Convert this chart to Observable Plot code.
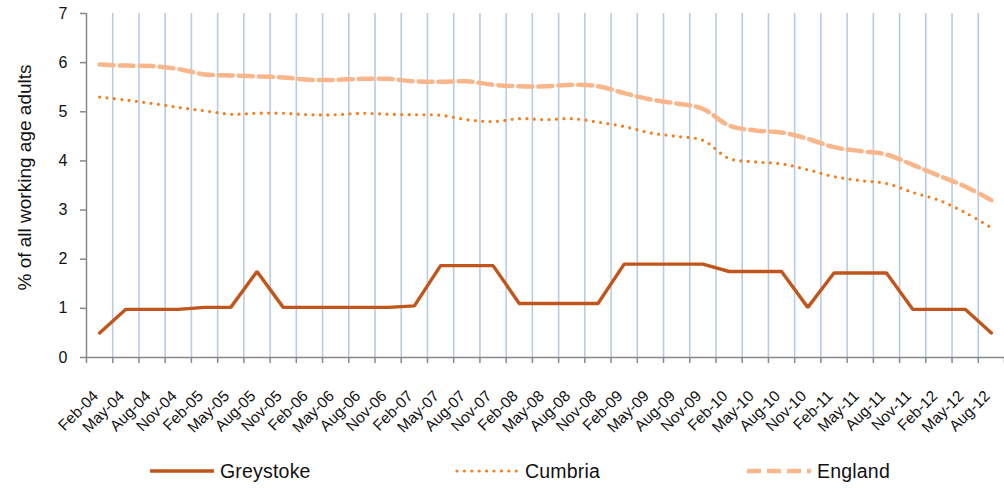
<!DOCTYPE html>
<html>
<head>
<meta charset="utf-8">
<script src="https://cdn.jsdelivr.net/npm/d3@7"></script>
<script src="https://cdn.jsdelivr.net/npm/@observablehq/plot@0.6"></script>
<style>
  html, body { margin: 0; padding: 0; background: #fff; }
  body { width: 1004px; height: 488px; overflow: hidden; font-family: "Liberation Sans", Arial, sans-serif; }
  #legend { position: relative; height: 38px; width: 1004px; }
  .item { position: absolute; top: 2px; height: 38px; display: flex; align-items: center; font-size: 19.5px; letter-spacing: 0.2px; color: #111; }
  .item svg { margin-right: 6px; }
</style>
</head>
<body>
<div id="chart"></div>
<div id="legend"></div>
<script>
const periods = ["Feb-04","May-04","Aug-04","Nov-04","Feb-05","May-05","Aug-05","Nov-05","Feb-06","May-06","Aug-06","Nov-06","Feb-07","May-07","Aug-07","Nov-07","Feb-08","May-08","Aug-08","Nov-08","Feb-09","May-09","Aug-09","Nov-09","Feb-10","May-10","Aug-10","Nov-10","Feb-11","May-11","Aug-11","Nov-11","Feb-12","May-12","Aug-12"];
const greystoke = [0.5,0.98,0.98,0.98,1.02,1.02,1.75,1.02,1.02,1.02,1.02,1.02,1.05,1.87,1.87,1.87,1.1,1.1,1.1,1.1,1.9,1.9,1.9,1.9,1.75,1.75,1.75,1.02,1.72,1.72,1.72,0.98,0.98,0.98,0.5];
const cumbria = [5.3,5.24,5.17,5.09,5.02,4.95,4.97,4.97,4.94,4.94,4.97,4.95,4.94,4.93,4.84,4.8,4.86,4.84,4.86,4.79,4.7,4.57,4.5,4.42,4.05,3.98,3.94,3.82,3.68,3.6,3.54,3.36,3.2,2.95,2.64];
const england = [5.96,5.94,5.93,5.87,5.76,5.74,5.72,5.7,5.65,5.65,5.67,5.67,5.62,5.61,5.62,5.55,5.52,5.52,5.55,5.52,5.38,5.25,5.17,5.06,4.72,4.62,4.58,4.45,4.28,4.2,4.13,3.92,3.7,3.48,3.2];
const seriesNames = ["Greystoke","Cumbria","England"];
const yTicks = [0,1,2,3,4,5,6,7];
const yLabel = "% of all working age adults";

const colors = {Greystoke: "#c0561c", Cumbria: "#f47f20", England: "#f9b68b"};

const gData = periods.map((p, i) => ({i, v: greystoke[i]}));
const cData = periods.map((p, i) => ({i, v: cumbria[i]}));
const eData = periods.map((p, i) => ({i, v: england[i]}));
const labelData = periods.map((p, i) => ({i, p}));
const boundaries = d3.range(periods.length + 1).map(k => k - 0.5);
const inner = boundaries.slice(1, -1);

const chart = Plot.plot({
  width: 1004,
  height: 450,
  marginLeft: 86,
  marginRight: 0,
  marginTop: 13,
  marginBottom: 93,
  style: {fontFamily: "'Liberation Sans', Arial, sans-serif", background: "#fff", overflow: "visible"},
  x: {type: "linear", domain: [-0.5, periods.length - 0.5]},
  y: {domain: [0, 7]},
  marks: [
    Plot.gridX(inner, {stroke: "#b8cce4", strokeOpacity: 1, strokeWidth: 1.6}),
    Plot.ruleY([0], {stroke: "#888", strokeWidth: 1.5}),
    Plot.ruleX([-0.5], {stroke: "#888", strokeWidth: 1.5}),
    Plot.axisY(yTicks, {tickSize: 6, tickPadding: 13, stroke: "#888", strokeWidth: 1.5, fontSize: 16, fill: "#111", label: null}),
    Plot.axisX(boundaries, {tickSize: 6, tickFormat: () => "", stroke: "#888", strokeWidth: 1.5, label: null}),
    Plot.text(labelData, {x: "i", y: 0, text: "p", rotate: -45, textAnchor: "end", lineAnchor: "middle", dx: -4, dy: 36, fontSize: 15.5, fill: "#111"}),
    Plot.text([yLabel], {frameAnchor: "left", textAnchor: "middle", rotate: -90, dx: -62, dy: -8, fontSize: 19, fill: "#111"}),
    Plot.line(eData, {x: "i", y: "v", stroke: colors.England, strokeWidth: 4.5, strokeDasharray: "14 6", curve: "catmull-rom"}),
    Plot.line(cData, {x: "i", y: "v", stroke: colors.Cumbria, strokeWidth: 3.2, strokeDasharray: "0 7.4", strokeLinecap: "round", curve: "catmull-rom"}),
    Plot.line(gData, {x: "i", y: "v", stroke: colors.Greystoke, strokeWidth: 3.4, strokeLinejoin: "miter"})
  ]
});
document.getElementById("chart").appendChild(chart);

const legendPos = {Greystoke: 150, Cumbria: 455, England: 747};
const dash = {Greystoke: "", Cumbria: "0 7.4", England: "14 6"};
const widths = {Greystoke: 3.4, Cumbria: 3.2, England: 4.5};
const lg = document.getElementById("legend");
for (const name of seriesNames) {
  const div = document.createElement("div");
  div.className = "item";
  div.style.left = legendPos[name] + "px";
  div.innerHTML = `<svg width="64" height="10"><line x1="${name === "Cumbria" ? 2 : 0}" y1="5" x2="64" y2="5" stroke="${colors[name]}" stroke-width="${widths[name]}" stroke-dasharray="${dash[name]}" stroke-linecap="${name === "Cumbria" ? "round" : "butt"}"/></svg><span>${name}</span>`;
  lg.appendChild(div);
}
</script>
</body>
</html>
